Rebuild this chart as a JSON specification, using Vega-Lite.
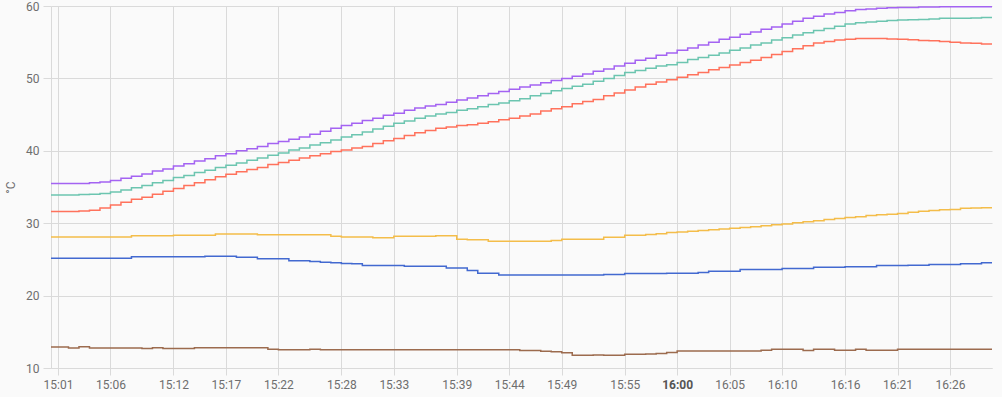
{
  "$schema": "https://vega.github.io/schema/vega-lite/v6.json",
  "width": 941,
  "height": 362,
  "autosize": {"type": "none"},
  "padding": {"left": 51, "top": 6, "right": 10, "bottom": 29},
  "background": "#fafafa",
  "config": {"view": {"stroke": null}, "font": "Roboto"},
  "data": {
    "format": {"parse": {"time": "date:'%H:%M'"}},
    "values": [
      {"time":"15:00","T1":35.5,"T2":33.9,"T3":31.6,"T4":28.1,"T5":25.15,"T6":12.9},
      {"time":"15:01","T1":35.5,"T2":33.9,"T3":31.6,"T4":28.1,"T5":25.15,"T6":12.9},
      {"time":"15:02","T1":35.5,"T2":33.9,"T3":31.6,"T4":28.1,"T5":25.15,"T6":12.75},
      {"time":"15:03","T1":35.5,"T2":33.95,"T3":31.7,"T4":28.1,"T5":25.15,"T6":12.95},
      {"time":"15:04","T1":35.6,"T2":34.0,"T3":31.8,"T4":28.1,"T5":25.15,"T6":12.75},
      {"time":"15:05","T1":35.7,"T2":34.1,"T3":32.1,"T4":28.1,"T5":25.15,"T6":12.75},
      {"time":"15:06","T1":35.9,"T2":34.3,"T3":32.5,"T4":28.1,"T5":25.15,"T6":12.75},
      {"time":"15:07","T1":36.2,"T2":34.6,"T3":32.9,"T4":28.1,"T5":25.15,"T6":12.75},
      {"time":"15:08","T1":36.5,"T2":34.9,"T3":33.3,"T4":28.25,"T5":25.35,"T6":12.75},
      {"time":"15:09","T1":36.8,"T2":35.2,"T3":33.6,"T4":28.25,"T5":25.35,"T6":12.7},
      {"time":"15:10","T1":37.2,"T2":35.6,"T3":34.0,"T4":28.25,"T5":25.35,"T6":12.8},
      {"time":"15:11","T1":37.5,"T2":35.9,"T3":34.4,"T4":28.25,"T5":25.35,"T6":12.7},
      {"time":"15:12","T1":37.9,"T2":36.3,"T3":34.8,"T4":28.35,"T5":25.35,"T6":12.7},
      {"time":"15:13","T1":38.2,"T2":36.6,"T3":35.2,"T4":28.35,"T5":25.35,"T6":12.7},
      {"time":"15:14","T1":38.6,"T2":37.0,"T3":35.6,"T4":28.35,"T5":25.35,"T6":12.8},
      {"time":"15:15","T1":38.9,"T2":37.3,"T3":36.0,"T4":28.35,"T5":25.45,"T6":12.8},
      {"time":"15:16","T1":39.3,"T2":37.7,"T3":36.4,"T4":28.5,"T5":25.45,"T6":12.8},
      {"time":"15:17","T1":39.6,"T2":38.0,"T3":36.75,"T4":28.5,"T5":25.45,"T6":12.8},
      {"time":"15:18","T1":40.0,"T2":38.3,"T3":37.1,"T4":28.5,"T5":25.3,"T6":12.8},
      {"time":"15:19","T1":40.3,"T2":38.7,"T3":37.4,"T4":28.5,"T5":25.3,"T6":12.8},
      {"time":"15:20","T1":40.6,"T2":39.0,"T3":37.7,"T4":28.4,"T5":25.1,"T6":12.8},
      {"time":"15:21","T1":41.0,"T2":39.4,"T3":38.1,"T4":28.4,"T5":25.1,"T6":12.6},
      {"time":"15:22","T1":41.3,"T2":39.7,"T3":38.4,"T4":28.4,"T5":25.1,"T6":12.53},
      {"time":"15:23","T1":41.6,"T2":40.1,"T3":38.7,"T4":28.4,"T5":24.8,"T6":12.53},
      {"time":"15:24","T1":41.9,"T2":40.4,"T3":39.0,"T4":28.4,"T5":24.8,"T6":12.53},
      {"time":"15:25","T1":42.3,"T2":40.8,"T3":39.3,"T4":28.4,"T5":24.7,"T6":12.6},
      {"time":"15:26","T1":42.7,"T2":41.1,"T3":39.6,"T4":28.4,"T5":24.6,"T6":12.53},
      {"time":"15:27","T1":43.1,"T2":41.5,"T3":39.9,"T4":28.2,"T5":24.55,"T6":12.53},
      {"time":"15:28","T1":43.5,"T2":41.9,"T3":40.1,"T4":28.1,"T5":24.45,"T6":12.53},
      {"time":"15:29","T1":43.8,"T2":42.2,"T3":40.4,"T4":28.1,"T5":24.4,"T6":12.53},
      {"time":"15:30","T1":44.2,"T2":42.6,"T3":40.6,"T4":28.1,"T5":24.15,"T6":12.53},
      {"time":"15:31","T1":44.5,"T2":43.0,"T3":41.0,"T4":28.0,"T5":24.15,"T6":12.53},
      {"time":"15:32","T1":44.9,"T2":43.4,"T3":41.4,"T4":28.0,"T5":24.15,"T6":12.53},
      {"time":"15:33","T1":45.2,"T2":43.8,"T3":41.7,"T4":28.2,"T5":24.15,"T6":12.53},
      {"time":"15:34","T1":45.6,"T2":44.1,"T3":42.1,"T4":28.2,"T5":24.05,"T6":12.53},
      {"time":"15:35","T1":45.9,"T2":44.5,"T3":42.5,"T4":28.2,"T5":24.05,"T6":12.53},
      {"time":"15:36","T1":46.2,"T2":44.8,"T3":42.8,"T4":28.2,"T5":24.05,"T6":12.53},
      {"time":"15:37","T1":46.4,"T2":45.1,"T3":43.1,"T4":28.25,"T5":24.05,"T6":12.53},
      {"time":"15:38","T1":46.7,"T2":45.3,"T3":43.3,"T4":28.25,"T5":23.8,"T6":12.53},
      {"time":"15:39","T1":47.0,"T2":45.6,"T3":43.5,"T4":27.8,"T5":23.8,"T6":12.53},
      {"time":"15:40","T1":47.3,"T2":45.8,"T3":43.6,"T4":27.7,"T5":23.45,"T6":12.53},
      {"time":"15:41","T1":47.6,"T2":46.1,"T3":43.8,"T4":27.7,"T5":23.1,"T6":12.53},
      {"time":"15:42","T1":47.9,"T2":46.4,"T3":44.0,"T4":27.5,"T5":23.1,"T6":12.53},
      {"time":"15:43","T1":48.2,"T2":46.6,"T3":44.3,"T4":27.5,"T5":22.85,"T6":12.53},
      {"time":"15:44","T1":48.5,"T2":46.9,"T3":44.5,"T4":27.5,"T5":22.85,"T6":12.53},
      {"time":"15:45","T1":48.8,"T2":47.2,"T3":44.8,"T4":27.5,"T5":22.85,"T6":12.4},
      {"time":"15:46","T1":49.1,"T2":47.6,"T3":45.1,"T4":27.5,"T5":22.85,"T6":12.4},
      {"time":"15:47","T1":49.4,"T2":47.9,"T3":45.5,"T4":27.5,"T5":22.85,"T6":12.3},
      {"time":"15:48","T1":49.7,"T2":48.3,"T3":45.8,"T4":27.6,"T5":22.85,"T6":12.25},
      {"time":"15:49","T1":50.0,"T2":48.6,"T3":46.1,"T4":27.8,"T5":22.85,"T6":12.1},
      {"time":"15:50","T1":50.3,"T2":48.9,"T3":46.5,"T4":27.8,"T5":22.85,"T6":11.75},
      {"time":"15:51","T1":50.6,"T2":49.2,"T3":46.8,"T4":27.8,"T5":22.85,"T6":11.75},
      {"time":"15:52","T1":51.0,"T2":49.6,"T3":47.1,"T4":27.8,"T5":22.85,"T6":11.8},
      {"time":"15:53","T1":51.3,"T2":50.0,"T3":47.6,"T4":28.05,"T5":22.9,"T6":11.75},
      {"time":"15:54","T1":51.7,"T2":50.4,"T3":48.0,"T4":28.05,"T5":22.9,"T6":11.75},
      {"time":"15:55","T1":52.1,"T2":50.8,"T3":48.4,"T4":28.35,"T5":23.05,"T6":11.9},
      {"time":"15:56","T1":52.5,"T2":51.1,"T3":48.8,"T4":28.35,"T5":23.05,"T6":11.9},
      {"time":"15:57","T1":52.8,"T2":51.4,"T3":49.2,"T4":28.45,"T5":23.05,"T6":11.95},
      {"time":"15:58","T1":53.2,"T2":51.7,"T3":49.5,"T4":28.55,"T5":23.05,"T6":12.0},
      {"time":"15:59","T1":53.5,"T2":51.9,"T3":49.8,"T4":28.7,"T5":23.1,"T6":12.15},
      {"time":"16:00","T1":53.9,"T2":52.2,"T3":50.15,"T4":28.8,"T5":23.1,"T6":12.35},
      {"time":"16:01","T1":54.2,"T2":52.6,"T3":50.5,"T4":28.9,"T5":23.1,"T6":12.35},
      {"time":"16:02","T1":54.6,"T2":52.9,"T3":50.8,"T4":29.0,"T5":23.2,"T6":12.35},
      {"time":"16:03","T1":55.0,"T2":53.2,"T3":51.2,"T4":29.1,"T5":23.35,"T6":12.35},
      {"time":"16:04","T1":55.4,"T2":53.5,"T3":51.5,"T4":29.2,"T5":23.35,"T6":12.35},
      {"time":"16:05","T1":55.7,"T2":53.9,"T3":51.85,"T4":29.3,"T5":23.35,"T6":12.35},
      {"time":"16:06","T1":56.1,"T2":54.2,"T3":52.2,"T4":29.4,"T5":23.6,"T6":12.35},
      {"time":"16:07","T1":56.4,"T2":54.6,"T3":52.5,"T4":29.5,"T5":23.6,"T6":12.35},
      {"time":"16:08","T1":56.8,"T2":54.9,"T3":52.9,"T4":29.65,"T5":23.6,"T6":12.45},
      {"time":"16:09","T1":57.1,"T2":55.3,"T3":53.3,"T4":29.8,"T5":23.6,"T6":12.58},
      {"time":"16:10","T1":57.5,"T2":55.6,"T3":53.7,"T4":29.9,"T5":23.75,"T6":12.58},
      {"time":"16:11","T1":57.9,"T2":56.0,"T3":54.1,"T4":30.05,"T5":23.75,"T6":12.58},
      {"time":"16:12","T1":58.3,"T2":56.3,"T3":54.5,"T4":30.2,"T5":23.75,"T6":12.4},
      {"time":"16:13","T1":58.6,"T2":56.6,"T3":54.9,"T4":30.35,"T5":23.9,"T6":12.58},
      {"time":"16:14","T1":58.9,"T2":56.9,"T3":55.1,"T4":30.5,"T5":23.9,"T6":12.58},
      {"time":"16:15","T1":59.1,"T2":57.2,"T3":55.3,"T4":30.65,"T5":23.9,"T6":12.45},
      {"time":"16:16","T1":59.35,"T2":57.5,"T3":55.4,"T4":30.8,"T5":24.0,"T6":12.45},
      {"time":"16:17","T1":59.5,"T2":57.7,"T3":55.5,"T4":30.9,"T5":24.0,"T6":12.58},
      {"time":"16:18","T1":59.6,"T2":57.8,"T3":55.5,"T4":31.05,"T5":24.0,"T6":12.45},
      {"time":"16:19","T1":59.7,"T2":57.9,"T3":55.5,"T4":31.15,"T5":24.15,"T6":12.45},
      {"time":"16:20","T1":59.75,"T2":58.0,"T3":55.45,"T4":31.25,"T5":24.15,"T6":12.45},
      {"time":"16:21","T1":59.8,"T2":58.05,"T3":55.4,"T4":31.35,"T5":24.15,"T6":12.58},
      {"time":"16:22","T1":59.8,"T2":58.1,"T3":55.35,"T4":31.5,"T5":24.2,"T6":12.58},
      {"time":"16:23","T1":59.85,"T2":58.15,"T3":55.25,"T4":31.65,"T5":24.2,"T6":12.58},
      {"time":"16:24","T1":59.85,"T2":58.2,"T3":55.2,"T4":31.75,"T5":24.3,"T6":12.58},
      {"time":"16:25","T1":59.9,"T2":58.3,"T3":55.1,"T4":31.85,"T5":24.3,"T6":12.58},
      {"time":"16:26","T1":59.9,"T2":58.3,"T3":55.0,"T4":31.9,"T5":24.3,"T6":12.58},
      {"time":"16:27","T1":59.9,"T2":58.3,"T3":54.9,"T4":32.05,"T5":24.4,"T6":12.58},
      {"time":"16:28","T1":59.9,"T2":58.35,"T3":54.85,"T4":32.1,"T5":24.4,"T6":12.58},
      {"time":"16:29","T1":59.9,"T2":58.4,"T3":54.75,"T4":32.15,"T5":24.55,"T6":12.58},
      {"time":"16:30","T1":59.9,"T2":58.4,"T3":54.7,"T4":32.2,"T5":24.55,"T6":12.58}
    ]
  },
  "transform": [{"fold": ["T6", "T5", "T4", "T3", "T2", "T1"], "as": ["sensor", "temp"]}],
  "mark": {"type": "line", "interpolate": "step-after", "strokeWidth": 1.5, "clip": true},
  "encoding": {
    "x": {
      "field": "time",
      "type": "temporal",
      "scale": {
        "domain": [
          {"year": 1900, "month": 1, "date": 1, "hours": 15, "minutes": 0, "seconds": 20},
          {"year": 1900, "month": 1, "date": 1, "hours": 16, "minutes": 30, "seconds": 0}
        ]
      },
      "axis": {
        "title": null,
        "format": "%H:%M",
        "values": [
          {"year": 1900, "month": 1, "date": 1, "hours": 15, "minutes": 1},
          {"year": 1900, "month": 1, "date": 1, "hours": 15, "minutes": 6},
          {"year": 1900, "month": 1, "date": 1, "hours": 15, "minutes": 12},
          {"year": 1900, "month": 1, "date": 1, "hours": 15, "minutes": 17},
          {"year": 1900, "month": 1, "date": 1, "hours": 15, "minutes": 22},
          {"year": 1900, "month": 1, "date": 1, "hours": 15, "minutes": 28},
          {"year": 1900, "month": 1, "date": 1, "hours": 15, "minutes": 33},
          {"year": 1900, "month": 1, "date": 1, "hours": 15, "minutes": 39},
          {"year": 1900, "month": 1, "date": 1, "hours": 15, "minutes": 44},
          {"year": 1900, "month": 1, "date": 1, "hours": 15, "minutes": 49},
          {"year": 1900, "month": 1, "date": 1, "hours": 15, "minutes": 55},
          {"year": 1900, "month": 1, "date": 1, "hours": 16, "minutes": 0},
          {"year": 1900, "month": 1, "date": 1, "hours": 16, "minutes": 5},
          {"year": 1900, "month": 1, "date": 1, "hours": 16, "minutes": 10},
          {"year": 1900, "month": 1, "date": 1, "hours": 16, "minutes": 16},
          {"year": 1900, "month": 1, "date": 1, "hours": 16, "minutes": 21},
          {"year": 1900, "month": 1, "date": 1, "hours": 16, "minutes": 26}
        ],
        "grid": true,
        "gridColor": "#dadada",
        "domainColor": "#dadada",
        "tickColor": "#dadada",
        "tickSize": 7,
        "labelPadding": 4,
        "labelFontSize": 12,
        "labelColor": {"condition": {"test": "hours(datum.value) == 16 && minutes(datum.value) == 0", "value": "#555555"}, "value": "#6e6e6e"},
        "labelFontWeight": {"condition": {"test": "hours(datum.value) == 16 && minutes(datum.value) == 0", "value": "bold"}, "value": "normal"},
        "labelOverlap": false,
        "labelFlush": false
      }
    },
    "y": {
      "field": "temp",
      "type": "quantitative",
      "scale": {"domain": [10, 60], "nice": false, "zero": false},
      "axis": {
        "title": "°C",
        "titleFontSize": 12,
        "titleFontWeight": "normal",
        "titleColor": "#6e6e6e",
        "titleX": -41,
        "titleY": 181,
        "titleBaseline": "middle",
        "values": [10, 20, 30, 40, 50, 60],
        "grid": true,
        "gridColor": "#dadada",
        "domainColor": "#dadada",
        "tickColor": "#dadada",
        "tickSize": 8,
        "labelPadding": 4,
        "labelFontSize": 12,
        "labelColor": "#6e6e6e"
      }
    },
    "color": {
      "field": "sensor",
      "type": "nominal",
      "legend": null,
      "scale": {
        "domain": ["T1", "T2", "T3", "T4", "T5", "T6"],
        "range": ["#a463f2", "#6cc5b0", "#ff725c", "#f4bd4a", "#4269d0", "#9c6b4e"]
      }
    }
  }
}
